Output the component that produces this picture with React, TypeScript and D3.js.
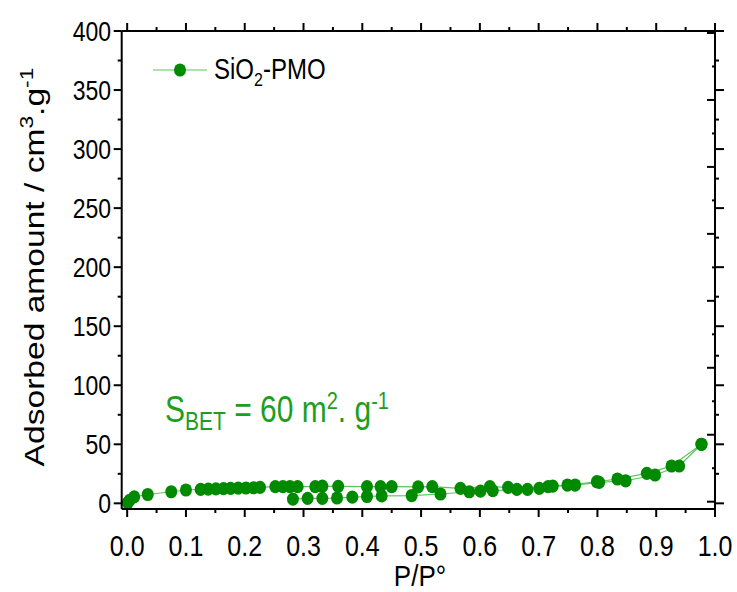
import React from "react";
import * as d3 from "d3";

const adsX = [0.001, 0.004, 0.012, 0.035, 0.075, 0.1, 0.125, 0.138, 0.151, 0.164, 0.176, 0.189, 0.202, 0.215, 0.226, 0.252, 0.265, 0.277, 0.29, 0.32, 0.332, 0.359, 0.408, 0.431, 0.45, 0.495, 0.519, 0.567, 0.617, 0.648, 0.701, 0.724, 0.762, 0.803, 0.848, 0.898, 0.939, 0.977];
const adsY = [0.5, 2.5, 5.5, 7.5, 9.8, 11.3, 11.8, 12.1, 12.3, 12.5, 12.7, 12.9, 13.0, 13.2, 13.5, 14.1, 14.1, 14.1, 14.1, 14.1, 14.5, 14.4, 14.1, 14.1, 14.1, 14.0, 14.1, 12.7, 14.1, 13.5, 12.7, 14.6, 15.5, 17.8, 19.1, 24.0, 31.6, 50.0];
const desX = [0.977, 0.926, 0.884, 0.834, 0.799, 0.749, 0.716, 0.681, 0.663, 0.622, 0.601, 0.582, 0.533, 0.484, 0.433, 0.408, 0.383, 0.357, 0.332, 0.307, 0.282];
const desY = [50.0, 31.6, 25.4, 20.6, 18.3, 15.5, 14.1, 11.8, 11.8, 10.7, 10.4, 9.8, 7.9, 6.6, 6.3, 5.8, 5.2, 4.5, 4.2, 4.2, 3.6];

const xTicks = [0, 0.1, 0.2, 0.3, 0.4, 0.5, 0.6, 0.7, 0.8, 0.9, 1.0];
const yTicks = [0, 50, 100, 150, 200, 250, 300, 350, 400];
const rightInnerTicks = [0, 1, 2, 3, 4, 5, 6, 7];

const W = 737, H = 592;
const L = 121.7, R = 715, T = 31, B = 509;
const SY = 1.2;

function st(x: number, y: number, rot = 0, sy = SY) {
  return `translate(${x},${y}) scale(1,${sy})` + (rot ? ` rotate(${rot})` : "");
}

export default function App() {
  const x = d3.scaleLinear().domain([-0.0093, 1.0]).range([L, R]);
  const y = d3.scaleLinear().domain([-4.8, 400]).range([B, T]);
  const y2 = d3.scaleLinear().domain([0, 7]).range([501.7, 33]);
  const line = d3.line<[number, number]>().x(d => x(d[0])).y(d => y(d[1]));
  const ads: [number, number][] = adsX.map((v, i) => [v, adsY[i]]);
  const des: [number, number][] = desX.map((v, i) => [v, desY[i]]);
  const xMinor = d3.range(0.05, 1.0, 0.1);
  const yMinor = d3.range(25, 400, 50);
  const y2Minor = d3.range(0.5, 7, 1);
  const markerColor = "#008a00";
  const lineColor = "#5cc45c";
  const font = "Liberation Sans, Arial, sans-serif";
  const ax = { stroke: "#000", strokeWidth: 2 };
  return (
    <svg width={W} height={H} style={{ position: "absolute", left: 0, top: 0, background: "#fff" }}>
      <rect x={0} y={0} width={W} height={H} fill="#fff" />
      {/* data */}
      <path d={line(ads) || ""} fill="none" stroke={lineColor} strokeWidth={1.2} />
      <path d={line(des) || ""} fill="none" stroke={lineColor} strokeWidth={1.2} />
      {ads.map((d, i) => <ellipse key={"a" + i} cx={x(d[0])} cy={y(d[1])} rx={6} ry={6.6} fill={markerColor} />)}
      {des.map((d, i) => <ellipse key={"d" + i} cx={x(d[0])} cy={y(d[1])} rx={6} ry={6.6} fill={markerColor} />)}
      {/* axes frame */}
      <line x1={L} x2={R} y1={B} y2={B} {...ax} />
      <line x1={L} x2={R} y1={T} y2={T} {...ax} />
      <line x1={L} x2={L} y1={T} y2={B} {...ax} />
      <line x1={R} x2={R} y1={T} y2={B} {...ax} />
      {/* x ticks */}
      {xTicks.map(t => (
        <g key={"xt" + t}>
          <line x1={x(t)} x2={x(t)} y1={B} y2={B + 8} {...ax} />
          <line x1={x(t)} x2={x(t)} y1={T} y2={T - 8} {...ax} />
          <text transform={st(x(t), 556)} textAnchor="middle" fontFamily={font} fontSize={25}>{t.toFixed(1)}</text>
        </g>
      ))}
      {xMinor.map(t => (
        <g key={"xm" + t}>
          <line x1={x(t)} x2={x(t)} y1={B} y2={B + 4} {...ax} />
          <line x1={x(t)} x2={x(t)} y1={T} y2={T - 4} {...ax} />
        </g>
      ))}
      {/* y ticks */}
      {yTicks.map(t => (
        <g key={"yt" + t}>
          <line x1={L} x2={L - 8} y1={y(t)} y2={y(t)} {...ax} />
          <line x1={R} x2={R + 9} y1={y(t)} y2={y(t)} {...ax} />
          <text transform={st(111, y(t) + 10)} textAnchor="end" fontFamily={font} fontSize={23}>{t}</text>
        </g>
      ))}
      {yMinor.map(t => (
        <g key={"ym" + t}>
          <line x1={L} x2={L - 4} y1={y(t)} y2={y(t)} {...ax} />
          <line x1={R} x2={R + 4} y1={y(t)} y2={y(t)} {...ax} />
        </g>
      ))}
      {rightInnerTicks.map(t => (
        <line key={"r2" + t} x1={R} x2={R - 8} y1={y2(t)} y2={y2(t)} {...ax} />
      ))}
      {y2Minor.map(t => (
        <line key={"r2m" + t} x1={R} x2={R - 3} y1={y2(t)} y2={y2(t)} {...ax} />
      ))}
      {/* axis titles */}
      <text transform={st(420, 586, 0, 1.1)} textAnchor="middle" fontFamily={font} fontSize={26}>P/P°</text>
      <text transform={st(44, 267, -90)} textAnchor="middle" fontFamily={font} fontSize={28}>
        Adsorbed amount / cm<tspan dy={-11} fontSize={19}>3</tspan><tspan dy={11}>.g</tspan><tspan dy={-11} fontSize={19}>-1</tspan>
      </text>
      {/* legend */}
      <line x1={153} x2={207} y1={70} y2={70} stroke={lineColor} strokeWidth={1.2} />
      <ellipse cx={180} cy={70} rx={6} ry={6.6} fill={markerColor} />
      <text transform={st(214, 79)} fontFamily={font} fontSize={24}>
        SiO<tspan dy={6} fontSize={16}>2</tspan><tspan dy={-6}>-PMO</tspan>
      </text>
      {/* annotation */}
      <text transform={st(165, 422)} fontFamily={font} fontSize={30} fill="#1e9e1e">
        S<tspan dy={7} fontSize={21}>BET</tspan><tspan dy={-7}> = 60 m</tspan><tspan dy={-11} fontSize={20}>2</tspan><tspan dy={11}>. g</tspan><tspan dy={-11} fontSize={20}>-1</tspan>
      </text>
    </svg>
  );
}
